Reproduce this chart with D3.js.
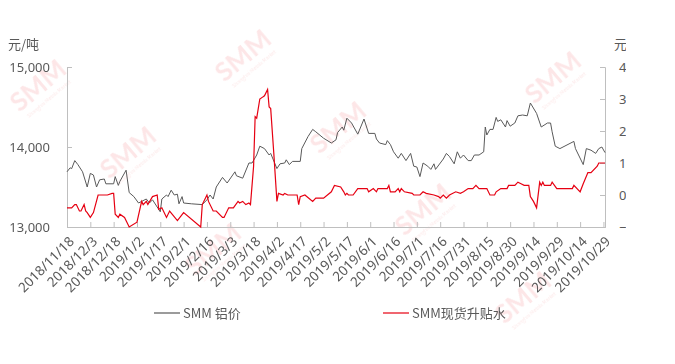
<!DOCTYPE html>
<html>
<head>
<meta charset="utf-8">
<script src="https://cdn.jsdelivr.net/npm/d3@7/dist/d3.min.js"></script>
<style>
  body { margin: 0; background: #fff; }
  svg { display: block; font-family: "Noto Sans CJK SC", "Noto Sans", sans-serif; }
</style>
</head>
<body>
<svg width="675" height="364"></svg>
<script>
// x axis tick labels (every 15 days)
var tickLabels = ["2018/11/18","2018/12/3","2018/12/18","2019/1/2","2019/1/17","2019/2/1",
  "2019/2/16","2019/3/3","2019/3/18","2019/4/2","2019/4/17","2019/5/2","2019/5/17","2019/6/1",
  "2019/6/16","2019/7/1","2019/7/16","2019/7/31","2019/8/15","2019/8/30","2019/9/14",
  "2019/9/29","2019/10/14","2019/10/29"];

var leftTicks = [13000, 14000, 15000];
var rightTicks = [-100, 0, 100, 200, 300, 400];

// SMM 铝价 (元/吨)
var priceDates = ["2018/11/18","2018/11/20","2018/11/21","2018/11/23","2018/11/25","2018/11/28",
  "2018/12/1","2018/12/3","2018/12/5","2018/12/7","2018/12/9","2018/12/12","2018/12/13",
  "2018/12/18","2018/12/19","2018/12/21","2018/12/22","2018/12/26","2018/12/28","2018/12/31",
  "2019/1/3","2019/1/5","2019/1/8","2019/1/10","2019/1/12","2019/1/17","2019/1/18","2019/1/21",
  "2019/1/22","2019/1/24","2019/1/26","2019/1/28","2019/1/29","2019/1/31","2019/2/1","2019/2/6",
  "2019/2/13","2019/2/16","2019/2/18","2019/2/20","2019/2/22","2019/2/26","2019/3/1","2019/3/6",
  "2019/3/7","2019/3/11","2019/3/15","2019/3/17","2019/3/20","2019/3/22","2019/3/25","2019/3/28",
  "2019/3/29","2019/4/2","2019/4/4","2019/4/7","2019/4/8","2019/4/10","2019/4/12","2019/4/17",
  "2019/4/18","2019/4/22","2019/4/25","2019/4/27","2019/5/2","2019/5/7","2019/5/10","2019/5/11",
  "2019/5/14","2019/5/15","2019/5/17","2019/5/20","2019/5/24","2019/5/28","2019/5/31","2019/6/4",
  "2019/6/5","2019/6/7","2019/6/11","2019/6/12","2019/6/14","2019/6/16","2019/6/19","2019/6/21",
  "2019/6/24","2019/6/27","2019/6/29","2019/7/1","2019/7/3","2019/7/5","2019/7/8","2019/7/10",
  "2019/7/12","2019/7/13","2019/7/18","2019/7/20","2019/7/22","2019/7/25","2019/7/27","2019/7/29",
  "2019/7/31","2019/8/3","2019/8/5","2019/8/7","2019/8/10","2019/8/13","2019/8/14","2019/8/15",
  "2019/8/17","2019/8/19","2019/8/21","2019/8/22","2019/8/24","2019/8/27","2019/8/28","2019/8/30",
  "2019/9/2","2019/9/4","2019/9/7","2019/9/10","2019/9/12","2019/9/16","2019/9/19","2019/9/23",
  "2019/9/25","2019/9/26","2019/9/28","2019/10/1","2019/10/10","2019/10/11","2019/10/16",
  "2019/10/18","2019/10/21","2019/10/24","2019/10/26","2019/10/28","2019/10/30"];
var priceValues = [13690,13740,13730,13830,13780,13690,
  13500,13670,13650,13500,13590,13600,13540,
  13540,13630,13520,13570,13710,13430,13380,
  13300,13320,13350,13300,13340,13190,13350,13400,
  13380,13460,13400,13410,13290,13380,13300,13290,
  13280,13340,13400,13350,13500,13620,13550,13690,
  13640,13610,13800,13800,13900,14010,13980,13900,
  13920,13730,13790,13800,13840,13780,13820,13820,
  13980,14130,14220,14190,14110,14050,14090,14180,
  14250,14210,14360,14300,14160,14350,14170,14170,
  14100,14050,14030,14080,14030,13940,13860,13920,
  13830,13920,13760,13750,13630,13800,13760,13720,
  13790,13720,13850,13920,13880,13790,13940,13860,
  13900,13830,13830,13900,13900,13940,14250,14150,
  14220,14220,14370,14320,14340,14250,14330,14260,
  14300,14390,14400,14390,14550,14420,14250,14300,
  14300,14190,14010,13980,14070,13980,13780,
  13980,13960,13920,13980,14000,13930];

// SMM现货升贴水 (元/吨)
var spreadDates = ["2018/11/18","2018/11/21","2018/11/23","2018/11/24","2018/11/26","2018/11/27",
  "2018/11/29","2018/11/30","2018/12/1","2018/12/3","2018/12/5","2018/12/8","2018/12/14",
  "2018/12/17","2018/12/18","2018/12/19","2018/12/21","2018/12/22","2018/12/25","2018/12/28",
  "2019/1/2","2019/1/5","2019/1/6","2019/1/8","2019/1/9","2019/1/12","2019/1/15","2019/1/16",
  "2019/1/18","2019/1/21","2019/1/23","2019/1/28","2019/2/1","2019/2/12","2019/2/13","2019/2/16",
  "2019/2/17","2019/2/20","2019/2/22","2019/2/26","2019/2/27","2019/3/2","2019/3/5","2019/3/8",
  "2019/3/9","2019/3/11","2019/3/13","2019/3/15","2019/3/16","2019/3/18","2019/3/19","2019/3/20",
  "2019/3/22","2019/3/25","2019/3/27","2019/3/28","2019/3/29","2019/3/31","2019/4/2","2019/4/3",
  "2019/4/6","2019/4/7","2019/4/9","2019/4/15","2019/4/16","2019/4/17","2019/4/20","2019/4/25",
  "2019/4/27","2019/5/2","2019/5/7","2019/5/9","2019/5/13","2019/5/15","2019/5/16","2019/5/17",
  "2019/5/18","2019/5/21","2019/5/24","2019/5/30","2019/5/31","2019/6/3","2019/6/5","2019/6/6",
  "2019/6/12","2019/6/13","2019/6/14","2019/6/17","2019/6/19","2019/6/20","2019/6/21","2019/6/23",
  "2019/6/28","2019/6/29","2019/7/3","2019/7/5","2019/7/7","2019/7/12","2019/7/15","2019/7/16",
  "2019/7/18","2019/7/20","2019/7/22","2019/7/26","2019/7/29","2019/7/31","2019/8/3","2019/8/6",
  "2019/8/8","2019/8/10","2019/8/15","2019/8/17","2019/8/20","2019/8/21","2019/8/24","2019/8/28",
  "2019/8/29","2019/9/2","2019/9/4","2019/9/6","2019/9/8","2019/9/11","2019/9/12","2019/9/14",
  "2019/9/16","2019/9/18","2019/9/19","2019/9/20","2019/9/21","2019/9/25","2019/9/26","2019/9/29",
  "2019/10/9","2019/10/10","2019/10/14","2019/10/16","2019/10/19","2019/10/21","2019/10/25",
  "2019/10/26","2019/10/30"];
var spreadValues = [-40,-40,-30,-30,-50,-50,
  -30,-50,-55,-70,-55,0,0,
  5,5,-60,-70,-60,-70,-100,
  -85,-20,-30,-20,-30,-5,0,-45,
  -40,-70,-50,-80,-55,-100,-30,0,
  -20,-50,-50,-70,-70,-40,-40,-20,
  -25,-20,-30,-25,-30,90,245,240,
  300,310,330,275,270,130,-20,5,
  0,5,0,0,-30,-5,0,-20,
  -10,-10,10,30,25,10,0,5,
  0,0,20,20,10,20,10,20,
  20,30,10,10,20,10,20,10,
  5,0,0,10,5,0,-5,-10,
  0,-10,0,10,5,10,20,20,
  30,20,20,0,0,10,20,20,
  30,30,40,35,30,30,-5,-20,
  -40,40,30,40,30,30,40,20,
  20,30,10,35,70,70,90,
  100,100];

var seriesNames = ["SMM 铝价", "SMM现货升贴水"];
var seriesColors = ["#595959", "#e60012"];

var svg = d3.select("svg"),
  width = +svg.attr("width"),
  height = +svg.attr("height");

var parse = d3.timeParse("%Y/%m/%d");
var plotLeft = 67, plotRight = 605, plotTop = 67, plotBottom = 227;
var textColor = "#595959", axisColor = "#bfbfbf";

var x = d3.scaleTime()
  .domain([parse("2018/11/18"), parse("2019/10/30")])
  .range([plotLeft, plotRight]);
var yL = d3.scaleLinear().domain([13000, 15000]).range([plotBottom, plotTop]);
var yR = d3.scaleLinear().domain([-100, 400]).range([plotBottom, plotTop]);

// watermarks
var marks = [[40, 88], [245, 58], [130, 155], [340, 130], [555, 80], [425, 212],
  [215, 252], [525, 300]];
var wm = svg.append("g").attr("fill", "#e60012").attr("opacity", 0.1);
marks.forEach(function(m) {
  var g = wm.append("g").attr("transform", "translate(" + m[0] + "," + m[1] + ") rotate(-40)");
  g.append("text").attr("text-anchor", "middle").attr("y", 6)
    .style("font-size", "26px").style("font-weight", "bold").style("font-family", "Lato, sans-serif")
    .text("SMM");
  g.append("text").attr("text-anchor", "middle").attr("y", 16)
    .style("font-size", "5px").text("Shanghai Metals Market");
});

// left axis
var axL = svg.append("g").attr("transform", "translate(" + plotLeft + ",0)")
  .call(d3.axisLeft(yL).tickValues(leftTicks).tickSize(-5).tickPadding(17).tickFormat(d3.format(",")));
axL.select(".domain").attr("stroke", axisColor);
axL.selectAll(".tick line").attr("stroke", axisColor);
axL.selectAll("text").attr("fill", textColor).style("font-size", "13px").style("font-family", "Noto Sans, sans-serif");

// right axis (labels cut off at the chart edge)
svg.append("clipPath").attr("id", "clipR").append("rect")
  .attr("x", 0).attr("y", 0).attr("width", 626).attr("height", height);
var rightWrap = svg.append("g").attr("clip-path", "url(#clipR)");
var axR = rightWrap.append("g").attr("transform", "translate(" + plotRight + ",0)")
  .call(d3.axisRight(yR).tickValues(rightTicks).tickSize(-5).tickPadding(14));
axR.select(".domain").attr("stroke", axisColor);
axR.selectAll(".tick line").attr("stroke", axisColor);
axR.selectAll("text").attr("fill", textColor)
  .style("font-size", "13px").style("font-family", "Noto Sans, sans-serif");

// bottom axis
var axB = svg.append("g").attr("transform", "translate(0," + plotBottom + ")")
  .call(d3.axisBottom(x).tickValues(tickLabels.map(parse)).tickSize(-5)
    .tickFormat(function(d, i) { return tickLabels[i]; }));
axB.select(".domain").attr("stroke", axisColor);
axB.selectAll(".tick line").attr("stroke", axisColor);
axB.selectAll("text")
  .attr("fill", textColor)
  .style("font-size", "13.5px")
  .style("font-family", "Noto Sans, sans-serif")
  .attr("text-anchor", "end")
  .attr("y", 0).attr("dy", "0.35em")
  .attr("transform", "translate(4,12) rotate(-45)");

// axis titles
svg.append("text").attr("x", 8).attr("y", 49).attr("fill", textColor)
  .style("font-size", "13px").text("元/吨");
rightWrap.append("text").attr("x", 614).attr("y", 49).attr("fill", textColor)
  .style("font-size", "13px").text("元/吨");

// lines
var price = priceDates.map(function(d, i) { return { date: parse(d), value: priceValues[i] }; });
var spread = spreadDates.map(function(d, i) { return { date: parse(d), value: spreadValues[i] }; });

svg.append("path").datum(price)
  .attr("fill", "none").attr("stroke", seriesColors[0]).attr("stroke-width", 1)
  .attr("d", d3.line().x(function(d) { return x(d.date); }).y(function(d) { return yL(d.value); }));

svg.append("path").datum(spread)
  .attr("fill", "none").attr("stroke", seriesColors[1]).attr("stroke-width", 1.2)
  .attr("d", d3.line().x(function(d) { return x(d.date); }).y(function(d) { return yR(d.value); }));

// legend
var legendX = [154, 383];
seriesNames.forEach(function(name, i) {
  svg.append("line").attr("x1", legendX[i]).attr("x2", legendX[i] + 26)
    .attr("y1", 313).attr("y2", 313).attr("stroke", seriesColors[i]).attr("stroke-width", 1.2);
  svg.append("text").attr("x", legendX[i] + 29).attr("y", 313).attr("dy", "0.35em")
    .attr("fill", textColor).style("font-size", "13px").text(name);
});
</script>
</body>
</html>
